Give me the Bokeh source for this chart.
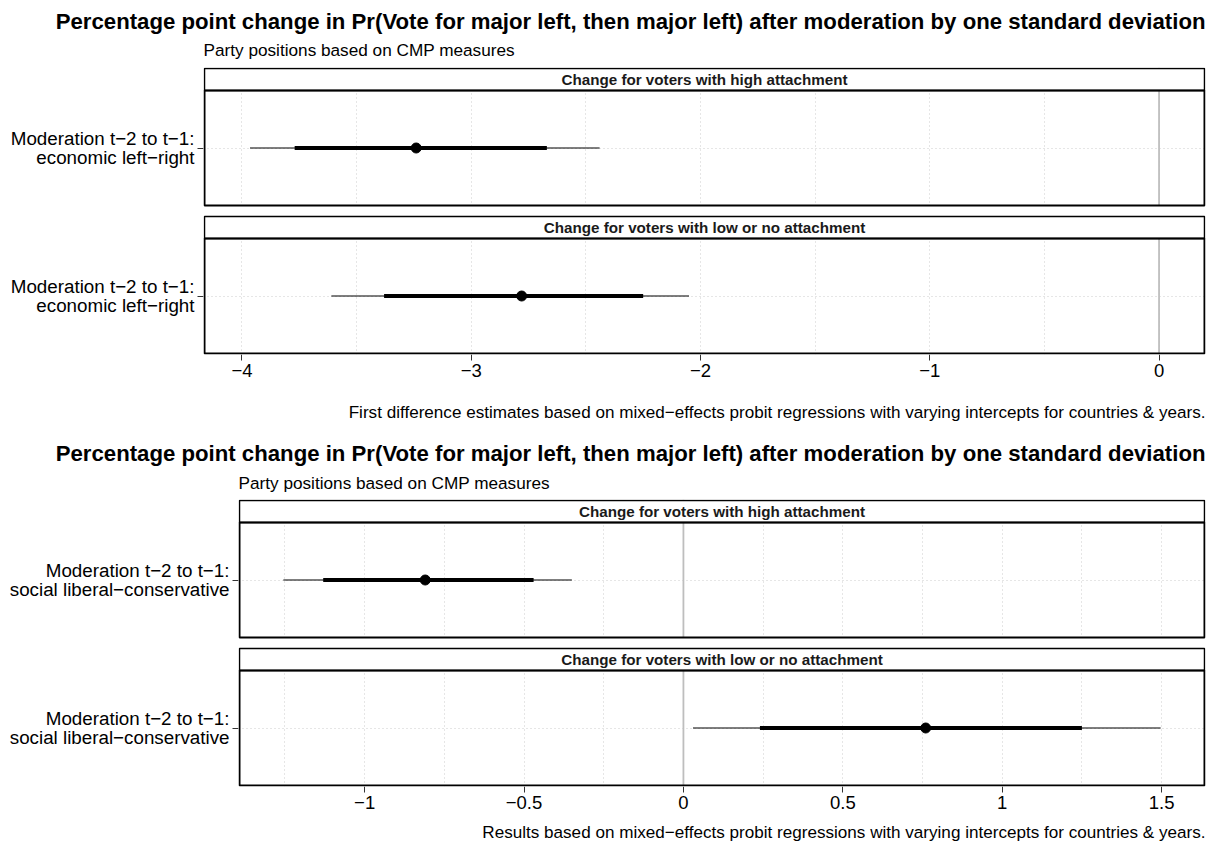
from bokeh.plotting import figure
from bokeh.models import Range1d, FixedTicker, BoxAnnotation, Span, Label, Title
from bokeh.embed import file_html
from bokeh.resources import INLINE

FONT = "Liberation Sans"

# ---------------- data ----------------
title_text = ("Percentage point change in Pr(Vote for major left, then major left) "
              "after moderation by one standard deviation")
subtitle_text = "Party positions based on CMP measures"
caption1 = ("First difference estimates based on mixed\u2212effects probit regressions "
            "with varying intercepts for countries & years.")
caption2 = ("Results based on mixed\u2212effects probit regressions with varying "
            "intercepts for countries & years.")

panel_names = ["Change for voters with high attachment",
               "Change for voters with low or no attachment"]

econ_label = "Moderation t\u22122 to t\u22121:\neconomic left\u2212right"
social_label = "Moderation t\u22122 to t\u22121:\nsocial liberal\u2212conservative"

# order: [high attachment, low/no attachment]
econ_est = [-3.24, -2.78]
econ_lo80 = [-3.77, -3.38]
econ_hi80 = [-2.67, -2.25]
econ_lo95 = [-3.965, -3.61]
econ_hi95 = [-2.44, -2.05]

social_est = [-0.81, 0.76]
social_lo80 = [-1.13, 0.24]
social_hi80 = [-0.47, 1.25]
social_lo95 = [-1.255, 0.03]
social_hi95 = [-0.35, 1.497]

econ_ticks = [-4, -3, -2, -1, 0]
econ_minor = [-3.5, -2.5, -1.5, -0.5]
econ_tick_labels = ["\u22124", "\u22123", "\u22122", "\u22121", "0"]

social_ticks = [-1, -0.5, 0, 0.5, 1, 1.5]
social_minor = [-1.25, -0.75, -0.25, 0.25, 0.75, 1.25]
social_tick_labels = ["\u22121", "\u22120.5", "0", "0.5", "1", "1.5"]

# ---------------- layout (pixel-like units within the frame) ----------------
PANELS_H = 285
P_LOW = (0, 115)      # lower panel
S_LOW = (115, 137)    # lower strip
GAP = (137, 148)
P_HIGH = (148, 263)   # upper panel
S_HIGH = (263, 285)   # upper strip
ROWS = [(P_HIGH[0] + P_HIGH[1]) / 2, (P_LOW[0] + P_LOW[1]) / 2]

GRID_COLOR = "#cccccc"
FIG_W = 1210
PANEL_RIGHT = 1204


def txt_title(text, size, style, align, valign, standoff):
    return Title(text=text, align=align, vertical_align=valign, text_font=FONT,
                 text_font_size=size, text_font_style=style, text_color="black",
                 standoff=standoff, offset=0)


def make_chart(est, lo80, hi80, lo95, hi95, ticks, minor, tick_labels, ylab,
               panel_left, height, top, bottom):
    lo = min(lo95 + [0])
    hi = max(hi95 + [0])
    pad = 0.05 * (hi - lo)
    x0, x1 = lo - pad, hi + pad
    panel_w = PANEL_RIGHT - panel_left
    dx = (x1 - x0) / panel_w          # one pixel in data units
    p = figure(width=FIG_W, height=height, output_backend="svg", toolbar_location=None,
               x_range=Range1d(x0 - dx, x1 + dx), y_range=Range1d(-1, PANELS_H + 1),
               min_border_left=panel_left - 1, min_border_right=FIG_W - PANEL_RIGHT - 1,
               min_border_top=top, min_border_bottom=bottom)
    p.outline_line_color = None
    p.background_fill_color = "white"
    p.border_fill_color = "white"

    # axes
    p.xaxis.ticker = FixedTicker(ticks=ticks, minor_ticks=minor)
    p.xaxis.major_label_overrides = {t: l for t, l in zip(ticks, tick_labels)}
    p.yaxis.ticker = FixedTicker(ticks=ROWS)
    p.yaxis.major_label_overrides = {r: ylab for r in ROWS}
    for ax in (p.xaxis, p.yaxis):
        ax.axis_line_color = None
        ax.major_tick_line_color = "#333333"
        ax.major_tick_line_width = 1
        ax.major_tick_out = 6
        ax.major_tick_in = 0
        ax.minor_tick_line_color = None
        ax.major_label_text_font = FONT
        ax.major_label_text_color = "black"
    p.xaxis.major_label_standoff = 3
    p.yaxis.major_label_standoff = 3
    p.xaxis.major_label_text_font_size = "18.5px"
    p.yaxis.major_label_text_font_size = "18.8px"
    p.yaxis.major_label_text_line_height = 0.95

    # grids
    for g in (p.xgrid, p.ygrid):
        g.grid_line_color = GRID_COLOR
        g.grid_line_dash = "1 3"
        g.grid_line_width = 1
    p.xgrid.minor_grid_line_color = GRID_COLOR
    p.xgrid.minor_grid_line_dash = "1 3"
    p.xgrid.minor_grid_line_width = 1

    # estimates
    p.segment(x0=lo95, y0=ROWS, x1=hi95, y1=ROWS, line_color="black", line_width=1.2)
    p.segment(x0=lo80, y0=ROWS, x1=hi80, y1=ROWS, line_color="black", line_width=4)
    p.scatter(x=est, y=ROWS, size=10, color="black")

    # zero reference line
    p.add_layout(Span(location=0, dimension="height", line_color="#bebebe", line_width=1.8))

    # white-out everything outside the panels
    for b, t in ((PANELS_H, PANELS_H + 2), S_HIGH, GAP, S_LOW, (-2, 0)):
        p.add_layout(BoxAnnotation(bottom=b, top=t, fill_color="white", fill_alpha=1,
                                   line_color=None))
    for l, r in ((x0 - 2 * dx, x0), (x1, x1 + 2 * dx)):
        p.add_layout(BoxAnnotation(left=l, right=r, fill_color="white", fill_alpha=1,
                                   line_color=None))
    # panel borders
    for b, t in (P_HIGH, P_LOW):
        p.add_layout(BoxAnnotation(left=x0, right=x1, bottom=b, top=t, fill_alpha=0,
                                   fill_color=None, line_color="black", line_width=2,
                                   line_alpha=1))
    # strip borders and labels
    xmid = (x0 + x1) / 2
    for (b, t), name in zip((S_HIGH, S_LOW), panel_names):
        p.add_layout(BoxAnnotation(left=x0, right=x1, bottom=b, top=t, fill_alpha=0,
                                   fill_color=None, line_color="black", line_width=1.5,
                                   line_alpha=1))
        p.add_layout(Label(x=xmid, y=(b + t) / 2, text=name, text_align="center",
                           text_baseline="middle", text_font=FONT,
                           text_font_size="15.2px", text_font_style="bold",
                           text_color="#1a1a1a"))
    return p


# chart 1: economic left-right
p1 = make_chart(econ_est, econ_lo80, econ_hi80, econ_lo95, econ_hi95,
                econ_ticks, econ_minor, econ_tick_labels, econ_label,
                panel_left=204, height=386, top=67, bottom=32)
p1.add_layout(txt_title(subtitle_text, "17.2px", "normal", "left", "top", 12.4), "above")
p1.add_layout(txt_title(title_text, "22.2px", "bold", "right", "bottom", 0), "above")

# chart 2: social liberal-conservative (its top margin also carries chart 1's note)
p2 = make_chart(social_est, social_lo80, social_hi80, social_lo95, social_hi95,
                social_ticks, social_minor, social_tick_labels, social_label,
                panel_left=239, height=467, top=113, bottom=67)
p2.add_layout(txt_title(subtitle_text, "17.2px", "normal", "left", "top", 10.4), "above")
p2.add_layout(txt_title(title_text, "22.2px", "bold", "right", "bottom", 3.5), "above")
p2.add_layout(txt_title(caption1, "17.1px", "normal", "right", "bottom", 28.7), "above")
p2.add_layout(txt_title(caption2, "17.1px", "normal", "right", "bottom", 19.1), "below")

open("out.html", "w").write(file_html([p1, p2], INLINE))
